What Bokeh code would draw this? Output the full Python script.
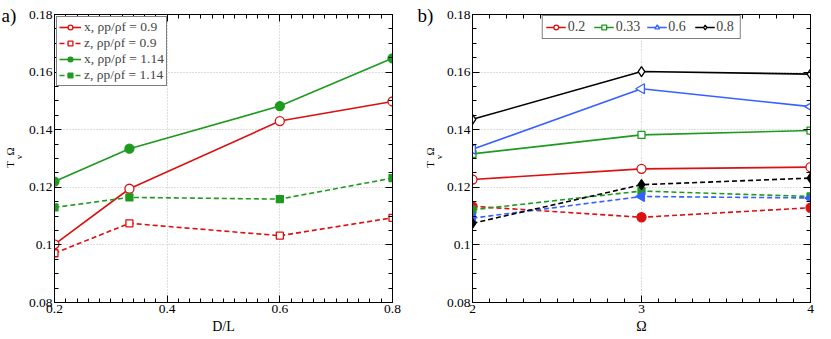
import numpy as np
from bokeh.plotting import figure
from bokeh.layouts import row
from bokeh.models import (Range1d, LinearAxis, FixedTicker, CustomJSTickFormatter,
                          Legend, LegendItem, Label)
from bokeh.embed import file_html
from bokeh.resources import INLINE

# ---- data: panel a ----
dl = [0.2, 0.333, 0.6, 0.8]
x_rho09 = [0.1002, 0.1195, 0.1430, 0.1498]
z_rho09 = [0.0971, 0.1075, 0.1032, 0.1094]
x_rho114 = [0.1220, 0.1334, 0.1482, 0.1648]
z_rho114 = [0.1130, 0.1165, 0.1159, 0.1232]
labels_a = ["x, ρp/ρf = 0.9", "z, ρp/ρf = 0.9", "x, ρp/ρf = 1.14", "z, ρp/ρf = 1.14"]

# ---- data: panel b ----
omega = [2, 3, 4]
solid_02 = [0.1227, 0.1264, 0.1270]
solid_033 = [0.1316, 0.1382, 0.1397]
solid_06 = [0.1332, 0.1542, 0.1480]
solid_08 = [0.1436, 0.1602, 0.1593]
dash_02 = [0.1134, 0.1096, 0.1129]
dash_033 = [0.1122, 0.1187, 0.1168]
dash_06 = [0.1093, 0.1168, 0.1163]
dash_08 = [0.1075, 0.1209, 0.1232]
labels_b = ["0.2", "0.33", "0.6", "0.8"]

y_major = [0.08, 0.10, 0.12, 0.14, 0.16, 0.18]
xa_major = [0.2, 0.4, 0.6, 0.8]
xb_major = [2, 3, 4]

RED = "#dc1010"
GREEN = "#1e9a1e"
BLUE = "#3660ff"
BLACK = "#000000"
FONT = "Liberation Serif"
DASH = "5 3"

fmt = CustomJSTickFormatter(code="return String(Math.round(tick*1000)/1000);")


def minor(major, n):
    out = []
    for a, b in zip(major[:-1], major[1:]):
        step = (b - a) / n
        out += [a + k * step for k in range(1, n)]
    return out


def make_fig(xr, xmajor, xminor_n, width, bl, br):
    p = figure(width=width, height=339, x_range=Range1d(*xr), y_range=Range1d(0.08, 0.18),
               output_backend="svg", toolbar_location=None,
               min_border_left=bl, min_border_right=br, min_border_top=14, min_border_bottom=37)
    p.add_layout(LinearAxis(), "above")
    p.add_layout(LinearAxis(), "right")
    xt = FixedTicker(ticks=xmajor, minor_ticks=minor(xmajor, xminor_n))
    yt = FixedTicker(ticks=y_major, minor_ticks=minor(y_major, 4))
    for ax in p.xaxis:
        ax.ticker = xt
    for ax in p.yaxis:
        ax.ticker = yt
    for ax in list(p.xaxis) + list(p.yaxis):
        ax.axis_line_color = "black"
        ax.axis_line_width = 1
        ax.major_tick_in = 7
        ax.major_tick_out = 0
        ax.minor_tick_in = 4
        ax.minor_tick_out = 0
        ax.major_tick_line_color = "black"
        ax.minor_tick_line_color = "black"
        ax.major_label_text_font = FONT
        ax.major_label_text_font_size = "13.5px"
        ax.major_label_text_color = "black"
        ax.major_label_standoff = 2
        ax.formatter = fmt
    for ax in [p.above[0], p.right[0]]:
        ax.major_label_text_font_size = "1px"
        ax.major_label_text_color = None
        ax.major_label_standoff = 0
    p.grid.grid_line_color = "#bdbdbd"
    p.grid.grid_line_dash = "1 2"
    p.grid.grid_line_width = 1
    p.outline_line_color = "black"
    p.background_fill_color = "white"
    p.border_fill_color = "white"
    return p


def series(p, xs, ys, color, marker, filled, dashed, size, angle=0.0):
    ln = p.line(xs, ys, line_color=color, line_width=1.6,
                line_dash=DASH if dashed else "solid")
    sc = p.scatter(xs, ys, marker=marker, size=size, angle=angle,
                   line_color=color, line_width=1.3,
                   fill_color=color if filled else "white")
    return [ln, sc]


def txt(p, side, x0, y0, xo, yo, text, size, angle=0.0, align="center"):
    p.add_layout(Label(x=x0, y=y0, x_offset=xo, y_offset=yo, text=text, angle=angle,
                       text_align=align, text_baseline="middle",
                       text_font=FONT, text_font_size=size, text_color="black"), side)


def ylabel(p, x0, y0, dx):
    txt(p, "left", x0, y0, -44.5 + dx, 145, "T\u00a0\u00a0Ω", "11px", np.pi / 2)
    txt(p, "left", x0, y0, -35.5 + dx, 145.5, "v", "9px", np.pi / 2)


# ---- panel a ----
pa = make_fig((0.2, 0.8), xa_major, 10, 412, 54, 20)
ra = [
    series(pa, dl, x_rho09, RED, "circle", False, False, 9),
    series(pa, dl, z_rho09, RED, "square", False, True, 7),
    series(pa, dl, x_rho114, GREEN, "circle", True, False, 9),
    series(pa, dl, z_rho114, GREEN, "square", True, True, 7),
]
leg_a = Legend(items=[LegendItem(label=lab, renderers=r) for lab, r in zip(labels_a, ra)],
               location="top_left", orientation="vertical",
               label_text_font=FONT, label_text_font_size="13.5px",
               glyph_width=22, glyph_height=12, label_height=13, spacing=0,
               padding=2, margin=2, label_standoff=3,
               border_line_color="black", border_line_width=1, background_fill_alpha=1)
pa.add_layout(leg_a)
ylabel(pa, 0.2, 0.08, 0)
txt(pa, "below", 0.5, 0.08, 0, -23.7, "D/L", "14px")
txt(pa, "right", 0.2, 0.08, -53, 287, "a)", "19px", align="left")

# ---- panel b ----
pb = make_fig((2, 4), xb_major, 10, 419, 60, 21)
rb = [
    series(pb, omega, solid_02, RED, "circle", False, False, 9),
    series(pb, omega, solid_033, GREEN, "square", False, False, 7),
    series(pb, omega, solid_06, BLUE, "triangle", False, False, 10, np.pi / 2),
    series(pb, omega, solid_08, BLACK, "diamond", False, False, 10),
]
series(pb, omega, dash_02, RED, "circle", True, True, 9)
series(pb, omega, dash_033, GREEN, "square", True, True, 7)
series(pb, omega, dash_06, BLUE, "triangle", True, True, 10, np.pi / 2)
series(pb, omega, dash_08, BLACK, "diamond", True, True, 10)
leg_b = Legend(items=[LegendItem(label=lab, renderers=r) for lab, r in zip(labels_b, rb)],
               location="top_center", orientation="horizontal",
               label_text_font=FONT, label_text_font_size="14px",
               glyph_width=20, glyph_height=12, label_height=13, spacing=6,
               padding=3, margin=1, label_standoff=2,
               border_line_color="black", border_line_width=1, background_fill_alpha=1)
pb.add_layout(leg_b)
ylabel(pb, 2, 0.08, 1.5)
txt(pb, "below", 3, 0.08, 0, -23.7, "Ω", "14px")
txt(pb, "right", 2, 0.08, -55, 287, "b)", "19px", align="left")

layout = row(pa, pb)
open("out.html", "w").write(file_html(layout, INLINE))
